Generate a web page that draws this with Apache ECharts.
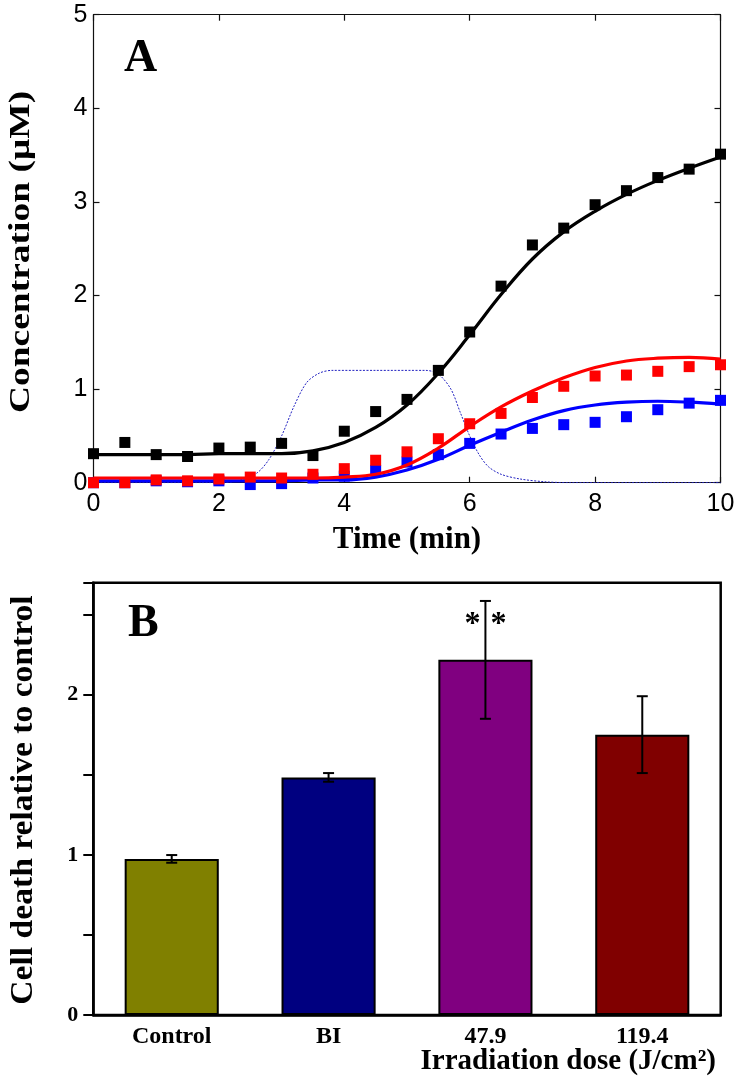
<!DOCTYPE html>
<html>
<head>
<meta charset="utf-8">
<script src="https://cdn.jsdelivr.net/npm/echarts@6/dist/echarts.min.js"></script>
<style>
html,body{margin:0;padding:0;background:#fff;}
#chart{width:740px;height:1082px;}
</style>
</head>
<body>
<div id="chart"></div>
<script>
// ---------- Panel A data ----------
const timeSq = [0,0.5,1,1.5,2,2.5,3,3.5,4,4.5,5,5.5,6,6.5,7,7.5,8,8.5,9,9.5,10];
const blackSq = [0.31,0.43,0.30,0.28,0.37,0.38,0.42,0.29,0.55,0.76,0.89,1.20,1.61,2.10,2.54,2.72,2.97,3.12,3.26,3.35,3.51];
const redSq   = [0.00,0.00,0.03,0.02,0.04,0.06,0.05,0.09,0.15,0.24,0.33,0.47,0.63,0.74,0.91,1.03,1.14,1.15,1.19,1.24,1.26];
const blueSq  = [0.00,0.00,0.02,0.01,0.02,-0.02,-0.01,0.05,0.07,0.13,0.22,0.30,0.42,0.52,0.58,0.62,0.645,0.705,0.78,0.85,0.88];

const timeFit = [0,0.5,1,1.5,2,2.5,3,3.5,4,4.5,5,5.5,6,6.5,7,7.5,8,8.5,9,9.5,10];
const blackFit = [0.30,0.30,0.30,0.30,0.31,0.31,0.31,0.34,0.43,0.59,0.83,1.17,1.58,2.01,2.39,2.68,2.90,3.08,3.23,3.36,3.48];
const redFit   = [0.05,0.05,0.05,0.05,0.05,0.05,0.05,0.05,0.06,0.09,0.19,0.37,0.60,0.81,0.98,1.12,1.23,1.30,1.33,1.34,1.32];
const blueFit  = [0.02,0.02,0.02,0.02,0.02,0.02,0.02,0.03,0.03,0.06,0.135,0.25,0.40,0.54,0.67,0.77,0.83,0.86,0.87,0.86,0.84];

const timeDot = [0,2.0,2.3,2.6,2.8,3.0,3.2,3.4,3.6,3.8,4.5,5.3,5.5,5.7,5.85,6.0,6.15,6.3,6.5,6.8,7.2,7.6,10];
const dotVal  = [0,0,0.02,0.10,0.25,0.50,0.82,1.07,1.17,1.20,1.20,1.20,1.16,1.00,0.75,0.50,0.30,0.17,0.09,0.04,0.01,0,0];

// ---------- Panel B data ----------
const categories = ['Control','BI','47.9','119.4'];
const barValues = [0.975,1.484,2.218,1.751];
const barErrors = [0.024,0.027,0.368,0.24];
const barColors = ['#808000','#000080','#800080','#800000'];
const sigMarks = ['','','*','']; // significance asterisks drawn either side of the error bar
const sigLevel = [null,null,2.44,null];

const pair = (xs, ys) => xs.map((x,i)=>[x, ys[i]]);

const chart = echarts.init(document.getElementById('chart'), null, {renderer:'canvas'});

const serif = 'Liberation Serif';
const sans = 'Liberation Sans';

const option = {
  animation:false,
  backgroundColor:'#fff',
  grid:[
    {left:93.5, top:14.7, width:627, height:468, show:false},
    {left:93.3, top:582.7, width:627.4, height:432.3, show:true, borderColor:'#000', borderWidth:2.5, backgroundColor:'transparent'}
  ],
  xAxis:[
    {type:'value', gridIndex:0, min:0, max:10, interval:2,
     axisLine:{show:true, onZero:false, lineStyle:{color:'#111',width:1.2}},
     axisTick:{show:true, inside:true, length:6, lineStyle:{color:'#111',width:1.2}},
     splitLine:{show:false},
     axisLabel:{color:'#000', fontFamily:sans, fontSize:25, margin:9},
     name:'Time (min)', nameLocation:'middle', nameGap:42,
     nameTextStyle:{color:'#000', fontFamily:serif, fontWeight:'bold', fontSize:31}},
    {type:'value', gridIndex:0, min:0, max:10, interval:2, position:'top',
     axisLine:{show:true, onZero:false, lineStyle:{color:'#111',width:1.2}},
     axisTick:{show:true, inside:true, length:6, lineStyle:{color:'#111',width:1.2}},
     splitLine:{show:false}, axisLabel:{show:false}},
    {type:'category', gridIndex:1, data:categories, boundaryGap:true,
     axisLine:{show:true, onZero:false, lineStyle:{color:'#000',width:2.5}},
     axisTick:{show:false},
     axisLabel:{color:'#000', fontFamily:serif, fontWeight:'bold', fontSize:24, margin:10}}
  ],
  yAxis:[
    {type:'value', gridIndex:0, min:0, max:5, interval:1,
     axisLine:{show:true, onZero:false, lineStyle:{color:'#111',width:1.2}},
     axisTick:{show:true, inside:true, length:6, lineStyle:{color:'#111',width:1.2}},
     splitLine:{show:false},
     axisLabel:{color:'#000', fontFamily:sans, fontSize:25, margin:6}},
    {type:'value', gridIndex:0, min:0, max:5, interval:1, position:'right',
     axisLine:{show:true, onZero:false, lineStyle:{color:'#111',width:1.2}},
     axisTick:{show:true, inside:true, length:6, lineStyle:{color:'#111',width:1.2}},
     splitLine:{show:false}, axisLabel:{show:false}},
    {type:'value', gridIndex:1, min:0, max:2.7, interval:0.5,
     axisLine:{show:true, onZero:false, lineStyle:{color:'#000',width:2.5}},
     axisTick:{show:true, inside:false, length:10, lineStyle:{color:'#000',width:2}},
     splitLine:{show:false},
     axisLabel:{color:'#000', fontFamily:serif, fontWeight:'bold', fontSize:22, margin:15,
       formatter:function(v){return Number.isInteger(v)?String(v):'';}}}
  ],
  graphic:[
    {type:'text', left:124, top:36, style:{text:'A', font:'bold 46px "Liberation Serif"', fill:'#000'}},
    {type:'text', left:128, top:601, style:{text:'B', font:'bold 46px "Liberation Serif"', fill:'#000'}},
    {type:'text', x:21, y:252, rotation:Math.PI/2, scaleX:1.25,
     style:{text:'Concentration (\u03bcM)', font:'bold 30px "Liberation Serif"', fill:'#000', align:'center', verticalAlign:'middle'}},
    {type:'text', x:24, y:800, rotation:Math.PI/2, scaleX:1.05,
     style:{text:'Cell death relative to control', font:'bold 32px "Liberation Serif"', fill:'#000', align:'center', verticalAlign:'middle'}},
    {type:'text', right:24, top:1047, style:{text:'Irradiation dose (J/cm\u00b2)', font:'bold 29px "Liberation Serif"', fill:'#000'}}
  ],
  series:[
    {type:'line', xAxisIndex:0, yAxisIndex:0, data:pair(timeDot, dotVal), symbol:'none', smooth:0.3,
     lineStyle:{color:'#2020c0', width:1, type:[2,1.5]}, z:2},
    {type:'scatter', xAxisIndex:0, yAxisIndex:0, data:pair(timeSq, blueSq), symbol:'rect', symbolSize:11,
     itemStyle:{color:'#0000ff', opacity:1}, clip:false, z:3},
    {type:'line', xAxisIndex:0, yAxisIndex:0, data:pair(timeFit, blueFit), symbol:'none', smooth:0.4,
     lineStyle:{color:'#0000ff', width:3.2}, z:4},
    {type:'scatter', xAxisIndex:0, yAxisIndex:0, data:pair(timeSq, redSq), symbol:'rect', symbolSize:11,
     itemStyle:{color:'#ff0000', opacity:1}, clip:false, z:5},
    {type:'line', xAxisIndex:0, yAxisIndex:0, data:pair(timeFit, redFit), symbol:'none', smooth:0.4,
     lineStyle:{color:'#ff0000', width:3.2}, z:6},
    {type:'scatter', xAxisIndex:0, yAxisIndex:0, data:pair(timeSq, blackSq), symbol:'rect', symbolSize:11,
     itemStyle:{color:'#000', opacity:1}, clip:false, z:7},
    {type:'line', xAxisIndex:0, yAxisIndex:0, data:pair(timeFit, blackFit), symbol:'none', smooth:0.4,
     lineStyle:{color:'#000', width:3.2}, z:8},
    {type:'bar', xAxisIndex:2, yAxisIndex:2, barWidth:'60%',
     data:barValues.map((v,i)=>({value:v, itemStyle:{color:barColors[i]}})),
     itemStyle:{borderColor:'#000', borderWidth:2}, z:2},
    {type:'custom', xAxisIndex:2, yAxisIndex:2, z:5,
     data:barValues.map((v,i)=>[i, v-barErrors[i], v+barErrors[i]]),
     renderItem:function(params, api){
       const i = api.value(0);
       const lo = api.coord([i, api.value(1)]);
       const hi = api.coord([i, api.value(2)]);
       const cap = 5.5;
       const st = {stroke:'#000', lineWidth:2};
       const children = [
         {type:'line', shape:{x1:lo[0], y1:lo[1], x2:hi[0], y2:hi[1]}, style:st},
         {type:'line', shape:{x1:hi[0]-cap, y1:hi[1], x2:hi[0]+cap, y2:hi[1]}, style:st},
         {type:'line', shape:{x1:lo[0]-cap, y1:lo[1], x2:lo[0]+cap, y2:lo[1]}, style:st}
       ];
       if (sigMarks[i]) {
         const p = api.coord([i, sigLevel[i]]);
         [-13, 13].forEach(function(dx){
           children.push({type:'text', style:{text:sigMarks[i], x:p[0]+dx, y:p[1],
             font:'bold 32px "Liberation Serif"', fill:'#000', align:'center', verticalAlign:'middle'}});
         });
       }
       return {type:'group', children:children};
     }}
  ]
};
chart.setOption(option);
</script>
</body>
</html>
